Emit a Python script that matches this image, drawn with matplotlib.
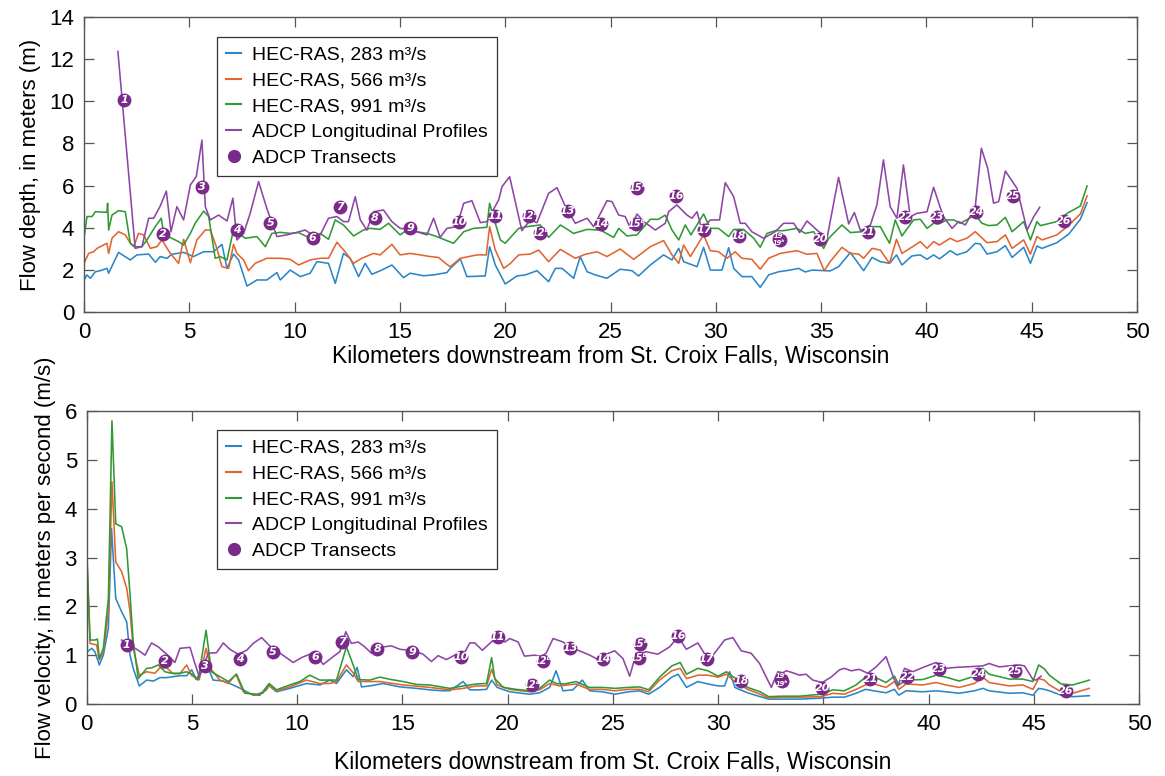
import numpy as np
import matplotlib
matplotlib.use("Agg")
import matplotlib.pyplot as plt
from matplotlib.lines import Line2D

plt.rcParams['font.family'] = ['Liberation Sans', 'DejaVu Sans']

# ---------------- DATA: flow depth (m), (km, value) ----------------
depth_283 = [(0,1.52),(0.14,1.76),(0.3,1.6),(0.54,1.91),(0.77,1.96),(1.09,2.07),(1.17,1.84),(1.64,2.83),(2.2,2.47),(2.51,2.71),
 (3.07,2.75),(3.39,2.36),(3.62,2.63),(3.94,2.55),(4.17,2.74),(4.73,2.83),(5.2,2.63),(5.68,2.86),(6.15,2.86),(6.55,3.21),
 (6.79,2.07),(7.1,2.75),(7.34,2.47),(7.74,1.23),(8.21,1.52),(8.68,1.52),(9.16,1.87),(9.32,1.52),(9.79,1.99),(10.27,1.68),
 (10.74,1.84),(11.06,2.39),(11.61,2.31),(11.93,1.36),(12.32,2.78),(12.64,2.55),(13.04,1.68),(13.35,2.31),(13.67,1.79),(14.14,1.99),
 (14.62,2.23),(15.17,1.63),(15.49,1.84),(16.12,1.72),(16.6,1.76),(17.23,1.87),(17.39,2.07),(17.87,2.52),(18.18,1.68),(19.05,1.71),
 (19.26,3.1),(19.53,2.23),(20.0,1.33),(20.56,1.71),(20.96,1.76),(21.51,1.96),(22.06,1.44),(22.38,2.07),(22.7,2.07),(23.25,1.6),
 (23.56,2.63),(23.89,1.91),(24.28,1.76),(24.83,1.6),(25.46,2.03),(26.02,1.96),(26.33,1.71),(26.89,2.23),(27.52,2.71),(27.92,2.47),
 (28.24,3.02),(28.47,2.39),(29.11,2.15),(29.42,3.07),(29.74,1.99),(30.29,1.99),(30.61,3.05),(30.85,2.07),(31.24,1.68),(31.71,1.68),
 (32.11,1.17),(32.51,1.76),(32.98,1.91),(33.53,1.99),(33.93,2.07),(34.25,1.9),(34.57,1.99),(35.43,1.95),(35.83,2.15),(36.39,2.82),
 (37.02,1.96),(37.42,2.59),(37.81,2.39),(38.25,2.31),(38.58,2.71),(38.84,2.23),(39.31,2.66),(39.71,2.71),(40.03,2.5),(40.34,2.71),
 (40.62,2.52),(41.13,2.91),(41.45,2.71),(41.92,2.86),(42.32,3.26),(42.56,3.23),(42.88,2.75),(43.35,2.86),(43.75,3.15),(44.07,2.59),
 (44.62,3.07),(44.94,2.31),(45.25,3.13),(45.49,3.02),(46.2,3.29),(46.76,3.7),(47.31,4.4),(47.63,5.19)]

depth_566 = [(0,2.31),(0.22,2.78),(0.46,2.86),(0.62,3.02),(0.93,3.18),(1.09,3.26),(1.17,2.78),(1.33,3.5),(1.64,3.81),(1.96,3.66),
 (2.2,3.26),(2.36,3.1),(2.59,3.73),(2.83,3.66),(3.15,3.02),(3.46,3.1),(3.7,3.42),(4.1,2.78),(4.49,2.31),(4.73,3.45),
 (5.05,2.34),(5.36,3.42),(5.76,3.89),(6.0,3.89),(6.31,3.02),(6.55,2.15),(6.87,2.07),(7.1,3.21),(7.26,2.78),(7.58,2.47),
 (7.81,1.96),(8.13,2.31),(8.68,2.55),(9.32,2.55),(9.79,2.5),(10.19,2.23),(10.74,2.47),(11.22,2.55),(11.61,2.55),(12.01,3.31),
 (12.4,2.86),(12.8,2.31),(13.19,2.55),(13.75,2.78),(14.06,2.71),(14.62,3.21),(15.01,2.71),(15.49,2.78),(15.97,2.71),(16.44,2.63),
 (16.83,2.59),(17.23,2.26),(17.39,2.15),(17.87,2.55),(18.66,2.71),(19.1,2.71),(19.26,4.05),(19.53,2.94),(19.93,2.07),(20.25,2.31),
 (20.64,2.71),(21.19,2.75),(21.59,2.94),(22.06,2.39),(22.62,2.97),(23.33,2.55),(23.81,2.74),(24.36,2.86),(24.83,2.63),(25.46,2.99),
 (26.1,2.5),(26.89,3.1),(27.52,3.39),(27.92,2.71),(28.24,2.31),(28.47,3.18),(28.79,2.63),(29.42,3.66),(29.74,2.91),(30.13,2.86),
 (30.53,2.55),(30.92,2.86),(31.24,2.55),(31.71,2.5),(32.11,2.03),(32.51,2.55),(33.06,2.78),(33.85,2.91),(34.33,2.74),(34.8,2.78),
 (35.15,1.96),(35.43,2.39),(35.99,3.07),(36.39,2.78),(36.78,2.75),(37.02,2.55),(37.42,3.02),(37.81,2.94),(38.25,2.31),(38.58,3.45),
 (38.84,2.78),(39.39,3.13),(39.71,3.34),(40.03,3.02),(40.34,3.34),(40.62,3.18),(41.13,3.5),(41.45,3.34),(41.92,3.5),(42.32,3.81),
 (42.88,3.29),(43.35,3.34),(43.75,3.66),(44.07,3.02),(44.62,3.42),(44.94,2.75),(45.25,3.58),(45.49,3.42),(46.2,3.66),(46.68,4.05),
 (47.31,4.65),(47.63,5.51)]

depth_991 = [(0,3.5),(0.14,4.53),(0.38,4.53),(0.54,4.76),(1.09,4.73),(1.12,5.16),(1.17,3.89),(1.33,4.6),(1.64,4.81),(1.96,4.76),
 (2.2,3.26),(2.43,3.1),(2.75,3.1),(2.99,3.42),(3.38,4.05),(3.67,4.45),(3.78,3.73),(4.1,3.53),(4.49,3.34),(4.73,3.18),
 (5.05,3.73),(5.28,4.21),(5.68,4.79),(5.92,4.53),(6.23,2.55),(6.47,2.63),(6.79,2.47),(7.1,3.92),(7.34,3.73),(7.66,3.5),
 (8.21,3.58),(8.61,3.1),(8.92,3.73),(9.32,3.78),(9.79,3.73),(10.19,3.77),(10.74,3.5),(11.22,3.73),(11.61,3.45),(11.93,4.37),
 (12.32,4.13),(12.8,3.61),(13.27,3.89),(13.59,3.97),(14.06,3.92),(14.46,4.21),(15.01,3.66),(15.33,3.89),(15.8,3.81),(16.28,3.73),
 (16.67,3.61),(17.07,3.45),(17.55,3.26),(18.03,3.81),(18.5,3.97),(19.13,4.02),(19.26,5.16),(19.53,4.21),(19.77,3.42),(20.0,3.26),
 (20.64,3.97),(21.03,4.05),(21.67,4.13),(22.06,3.54),(22.62,4.13),(23.25,3.73),(23.89,3.92),(24.52,3.89),(25.15,3.54),(25.39,3.97),
 (25.78,3.61),(26.26,3.66),(26.89,4.4),(27.28,4.4),(27.6,4.6),(27.92,3.89),(28.24,3.42),(28.55,4.13),(28.82,3.66),(29.42,4.65),
 (29.74,3.97),(30.13,3.97),(30.61,3.58),(30.85,3.92),(31.32,3.92),(31.8,3.5),(32.11,3.07),(32.43,3.73),(32.82,3.86),(33.22,3.86),
 (33.85,3.97),(34.25,3.73),(34.65,3.81),(35.12,3.02),(35.36,3.5),(35.99,4.13),(36.39,3.77),(36.94,3.81),(37.34,4.05),(37.81,4.05),
 (38.25,3.26),(38.52,4.37),(38.84,3.61),(39.39,4.37),(39.71,4.4),(40.03,3.97),(40.34,4.21),(40.58,4.18),(40.98,4.37),(41.3,4.37),
 (41.61,4.21),(42.32,4.6),(42.64,4.21),(42.95,4.1),(43.35,4.13),(43.75,4.49),(44.07,3.81),(44.62,4.29),(44.94,3.42),(45.25,4.29),
 (45.41,4.1),(46.2,4.29),(46.68,4.68),(47.31,5.03),(47.63,5.98)]

depth_adcp = [(1.61,12.36),(2.43,3.02),(2.75,3.1),(3.07,4.45),(3.31,4.45),(3.62,5.03),(3.91,5.74),(4.13,3.81),(4.41,5.0),(4.73,4.37),
 (5.05,6.03),(5.33,6.42),(5.6,8.16),(5.76,5.0),(6.0,4.37),(6.39,4.6),(6.79,4.32),(7.07,5.4),(7.26,3.42),(7.58,3.73),
 (7.89,4.68),(8.29,6.19),(8.68,4.92),(9.16,3.58),(9.63,3.66),(10.11,3.78),(10.5,3.89),(10.74,3.73),(11.22,3.66),(11.61,4.45),
 (12.01,4.53),(12.32,4.29),(12.56,4.29),(12.88,5.47),(13.12,4.37),(13.43,3.89),(13.75,4.76),(14.22,4.84),(14.62,4.29),(15.01,3.97),
 (15.49,3.92),(15.8,3.81),(16.28,3.66),(16.6,4.45),(16.91,3.54),(17.23,3.97),(17.7,4.05),(18.03,5.16),(18.42,5.28),(18.82,4.24),
 (19.13,4.29),(19.69,5.32),(19.85,5.95),(20.21,6.42),(20.79,3.86),(21.19,4.37),(21.51,4.24),(22.06,5.63),(22.46,5.9),(22.86,5.0),
 (23.33,4.21),(23.89,4.45),(24.2,4.05),(24.83,5.28),(25.07,5.24),(25.39,4.6),(25.7,4.53),(25.94,3.97),(26.26,4.65),(26.58,4.29),
 (27.13,3.89),(27.6,4.21),(27.76,4.76),(28.15,5.08),(28.63,4.6),(28.87,4.45),(29.11,4.76),(29.34,3.89),(29.74,4.37),(30.18,4.37),
 (30.45,6.14),(30.85,5.47),(31.16,4.21),(31.4,4.21),(31.71,3.81),(32.27,3.5),(32.82,3.81),(33.22,4.21),(33.7,4.21),(33.98,3.77),
 (34.33,4.32),(34.8,3.89),(35.28,3.5),(35.83,6.39),(36.31,4.18),(36.58,4.72),(36.87,3.86),(37.34,4.13),(37.65,5.08),(37.96,7.22),
 (38.28,5.0),(38.6,4.45),(38.91,6.98),(39.23,4.53),(39.55,4.68),(40.03,4.76),(40.34,5.92),(40.8,4.53),(41.22,3.97),(41.53,4.29),
 (41.85,4.13),(42.32,5.0),(42.61,7.77),(42.91,6.82),(43.19,5.16),(43.43,5.24),(43.75,6.69),(44.3,5.87),(44.78,3.89),(45.1,4.53),
 (45.38,4.97)]

# ---------------- DATA: flow velocity (m/s), (km, value) ----------------
vel_283 = [(0,3.1),(0.03,1.07),(0.24,1.14),(0.39,1.07),(0.6,0.8),(0.79,1.0),(1.03,1.55),(1.18,3.59),(1.38,2.16),(1.66,1.89),
 (1.9,1.68),(2.06,1.0),(2.21,0.73),(2.5,0.37),(2.85,0.49),(3.17,0.47),(3.48,0.54),(3.8,0.54),(4.43,0.58),(4.75,0.58),
 (4.99,0.7),(5.2,0.5),(5.5,0.72),(5.78,0.73),(6.01,0.49),(6.49,0.47),(6.96,0.39),(7.44,0.29),(7.91,0.18),(8.23,0.18),
 (8.62,0.39),(9.02,0.25),(9.65,0.32),(10.44,0.42),(11.08,0.39),(11.55,0.49),(11.87,0.42),(12.34,0.7),(12.66,0.56),(12.85,0.75),
 (13.06,0.35),(13.45,0.37),(14.09,0.42),(14.88,0.35),(15.67,0.32),(16.3,0.29),(16.93,0.27),(17.25,0.27),(17.89,0.46),(18.2,0.29),
 (18.67,0.29),(19.0,0.3),(19.24,0.49),(19.5,0.34),(20.1,0.25),(21.05,0.2),(21.52,0.23),(22.0,0.34),(22.3,0.68),(22.63,0.27),
 (23.1,0.29),(23.55,0.49),(23.9,0.27),(24.5,0.25),(25.1,0.2),(25.74,0.25),(26.27,0.27),(26.7,0.2),(27.22,0.34),(27.8,0.55),
 (28.1,0.61),(28.5,0.34),(29.04,0.46),(29.52,0.41),(30.0,0.37),(30.31,0.37),(30.55,0.66),(30.8,0.34),(31.0,0.3),(31.4,0.23),
 (32.0,0.15),(32.4,0.1),(33.0,0.1),(33.87,0.1),(34.9,0.12),(35.45,0.14),(36.0,0.14),(36.56,0.22),(37.0,0.3),(37.4,0.27),
 (37.98,0.23),(38.38,0.3),(38.59,0.18),(38.93,0.27),(39.72,0.25),(40.36,0.27),(40.82,0.25),(41.46,0.22),(42.18,0.27),(42.58,0.32),
 (42.88,0.27),(43.84,0.22),(44.47,0.23),(44.96,0.18),(45.23,0.32),(45.5,0.3),(45.74,0.27),(46.3,0.18),(46.85,0.15),(47.64,0.17)]

vel_566 = [(0,3.2),(0.16,1.24),(0.47,1.21),(0.6,0.9),(0.79,1.07),(1.03,1.88),(1.2,4.55),(1.38,2.91),(1.66,2.71),(1.9,2.37),
 (2.06,1.89),(2.21,1.14),(2.5,0.59),(2.85,0.66),(3.24,0.63),(3.48,0.74),(3.8,0.74),(4.11,0.62),(4.43,0.62),(4.75,0.8),
 (4.99,0.58),(5.35,0.5),(5.67,1.14),(5.93,0.7),(6.33,0.49),(6.73,0.42),(7.09,0.61),(7.44,0.25),(8.07,0.18),(8.55,0.29),
 (8.67,0.39),(9.02,0.27),(9.65,0.35),(10.44,0.49),(11.08,0.42),(11.55,0.42),(11.87,0.46),(12.34,0.8),(12.66,0.64),(12.9,0.46),
 (13.93,0.46),(15.03,0.39),(16.3,0.34),(17.25,0.29),(17.89,0.32),(18.52,0.37),(19.0,0.37),(19.24,0.71),(19.5,0.39),(20.1,0.3),
 (21.05,0.25),(21.52,0.29),(22.0,0.42),(22.47,0.37),(23.25,0.41),(23.87,0.3),(24.5,0.3),(25.1,0.27),(25.74,0.3),(26.27,0.3),
 (26.7,0.25),(27.22,0.49),(27.8,0.68),(28.2,0.73),(28.5,0.52),(29.04,0.59),(29.52,0.59),(30.0,0.55),(30.4,0.61),(30.7,0.49),
 (31.0,0.41),(31.4,0.3),(32.0,0.2),(32.4,0.12),(33.0,0.14),(33.87,0.14),(34.9,0.15),(35.45,0.22),(36.0,0.2),(36.56,0.3),
 (37.0,0.39),(37.4,0.41),(37.98,0.34),(38.38,0.46),(38.59,0.3),(38.93,0.41),(39.72,0.39),(40.36,0.44),(40.82,0.39),(41.46,0.34),
 (42.18,0.42),(42.58,0.55),(42.88,0.44),(43.84,0.37),(44.47,0.39),(44.96,0.3),(45.23,0.52),(45.5,0.49),(45.74,0.39),(46.3,0.25),
 (46.85,0.22),(47.64,0.32)]

vel_991 = [(0,3.1),(0.16,1.31),(0.39,1.31),(0.51,1.33),(0.6,0.93),(0.79,1.14),(1.03,2.16),(1.2,5.8),(1.38,3.69),(1.66,3.63),
 (1.9,3.18),(2.06,2.23),(2.21,1.27),(2.45,0.52),(2.85,0.73),(3.09,0.74),(3.4,0.8),(3.72,0.66),(4.03,0.63),(4.43,0.63),
 (4.75,0.66),(5.06,0.6),(5.3,0.49),(5.67,1.51),(5.93,0.66),(6.33,0.56),(6.73,0.46),(7.12,0.61),(7.52,0.22),(8.07,0.2),
 (8.39,0.23),(8.67,0.42),(9.02,0.29),(9.65,0.39),(10.13,0.46),(10.6,0.59),(11.08,0.49),(11.47,0.49),(11.87,0.49),(12.34,1.17),
 (12.66,0.8),(12.9,0.5),(13.45,0.49),(13.93,0.55),(14.48,0.5),(15.03,0.46),(15.67,0.4),(16.3,0.39),(17.25,0.32),(17.89,0.37),
 (18.52,0.41),(19.0,0.42),(19.24,0.95),(19.39,0.52),(19.79,0.34),(20.4,0.3),(21.05,0.27),(21.52,0.32),(22.0,0.49),(22.3,0.42),
 (22.7,0.41),(23.25,0.46),(23.87,0.34),(24.5,0.34),(25.1,0.32),(25.74,0.34),(26.27,0.35),(26.7,0.29),(27.22,0.55),(27.8,0.78),
 (28.2,0.85),(28.5,0.61),(29.04,0.73),(29.52,0.68),(30.0,0.57),(30.4,0.66),(30.7,0.56),(31.0,0.49),(31.4,0.34),(32.0,0.25),
 (32.4,0.15),(33.0,0.16),(33.87,0.16),(34.9,0.2),(35.45,0.29),(36.0,0.27),(36.56,0.39),(37.0,0.55),(37.4,0.56),(37.98,0.44),
 (38.38,0.57),(38.59,0.39),(38.93,0.49),(39.72,0.5),(40.36,0.59),(40.82,0.55),(41.46,0.47),(42.18,0.57),(42.58,0.73),(42.88,0.61),
 (43.84,0.51),(44.47,0.51),(44.96,0.46),(45.23,0.8),(45.5,0.72),(45.74,0.59),(46.3,0.41),(46.85,0.39),(47.64,0.49)]

vel_adcp = [(1.66,1.31),(2.45,1.1),(2.77,1.0),(3.08,1.25),(3.4,1.17),(3.8,1.02),(4.19,0.85),(4.43,1.14),(4.91,1.16),(5.14,0.83),
 (5.35,0.56),(5.78,1.04),(6.17,1.05),(6.49,1.25),(6.8,1.12),(7.2,1.02),(7.6,1.1),(7.91,1.24),(8.31,1.36),(8.7,1.19),
 (9.02,1.09),(9.42,0.97),(9.81,0.85),(10.21,0.95),(10.6,1.02),(10.92,1.0),(11.24,0.81),(11.71,0.97),(12.03,1.07),(12.31,1.48),
 (12.58,1.24),(12.9,1.27),(13.21,1.17),(13.53,1.04),(13.93,1.16),(14.48,1.19),(14.88,1.12),(15.35,1.1),(15.67,1.07),(15.98,1.02),
 (16.38,0.87),(16.7,0.99),(17.09,0.91),(17.57,1.02),(17.89,1.0),(18.2,1.25),(18.44,1.25),(18.8,1.1),(19.15,1.24),(19.52,1.38),
 (19.87,1.27),(20.1,1.34),(20.5,1.27),(20.8,0.98),(21.27,1.0),(21.6,0.97),(21.83,1.04),(22.16,1.34),(22.63,1.27),(22.95,1.17),
 (23.35,1.1),(23.9,1.0),(24.3,0.91),(24.8,1.04),(25.09,1.09),(25.48,0.93),(25.8,0.57),(26.1,1.02),(26.59,1.07),(27.14,1.02),
 (27.7,1.17),(28.1,1.38),(28.49,1.12),(29.04,1.25),(29.44,0.97),(29.76,1.0),(30.31,1.31),(30.7,1.36),(31.1,1.09),(31.57,1.04),
 (31.97,0.83),(32.53,0.34),(32.84,0.66),(33.08,0.64),(33.24,0.68),(33.55,0.64),(33.87,0.59),(34.18,0.61),(34.5,0.49),(34.95,0.44),
 (35.37,0.55),(35.77,0.7),(36.0,0.73),(36.33,0.68),(36.71,0.71),(37.11,0.63),(37.51,0.76),(37.98,0.97),(38.38,0.49),(38.54,0.37),
 (38.86,0.73),(39.25,0.66),(39.8,0.76),(40.36,0.85),(40.82,0.73),(41.3,0.75),(41.77,0.76),(42.58,0.78),(42.88,0.83),(43.35,0.76),
 (43.84,0.78),(44.32,0.8),(44.56,0.78),(44.96,0.5),(45.11,0.49),(45.35,0.57)]

# ---------------- DATA: ADCP transects ----------------
transect_labels = ['1','2','3','4','5','6','7','8','9','10','11','12\u1d43','12\u1d47','13','14','15\u1d43','15\u1d47',
                   '16','17','18','19\u1d43','19\u1d47','20','21','22','23','24','25','26']
transect_km = [1.9,3.73,5.6,7.28,8.85,10.85,12.15,13.8,15.48,17.8,19.53,21.14,21.66,22.97,24.55,26.27,26.22,
               28.11,29.45,31.08,33.0,33.03,34.96,37.23,39.0,40.5,42.37,44.1,46.51]
transect_depth = [10.06,3.69,5.92,3.89,4.21,3.53,4.97,4.48,3.97,4.29,4.57,4.57,3.76,4.81,4.16,5.87,4.16,
                  5.52,3.89,3.62,3.47,3.41,3.46,3.81,4.52,4.52,4.76,5.52,4.33]
transect_vel = [1.21,0.89,0.78,0.92,1.07,0.97,1.27,1.12,1.07,0.97,1.38,0.39,0.89,1.15,0.92,1.23,0.95,
                1.4,0.93,0.47,0.51,0.48,0.33,0.51,0.56,0.71,0.61,0.67,0.27]

series_labels = ['HEC-RAS, 283 m\u00b3/s', 'HEC-RAS, 566 m\u00b3/s', 'HEC-RAS, 991 m\u00b3/s',
                 'ADCP Longitudinal Profiles', 'ADCP Transects']
xlabel = 'Kilometers downstream from St. Croix Falls, Wisconsin'

C_BLUE, C_ORANGE, C_GREEN = '#2b86c8', '#e2652f', '#2f9a34'
C_PURPLE_LINE, C_PURPLE_MK = '#8d45a6', '#7a2a88'
SPINE = '#555555'

fig = plt.figure(figsize=(11.65, 7.76), dpi=100)
W, H = 1165.0, 776.0
ax1 = fig.add_axes([84 / W, 1 - 312 / H, 1053 / W, 295 / H])
ax2 = fig.add_axes([86.7 / W, 1 - 704 / H, 1052.3 / W, 293 / H])


def draw(ax, s283, s566, s991, sadcp, tvals, ylim, yticks, ylabel, leg_anchor, xlabelpad):
    for data, col in ((s283, C_BLUE), (s566, C_ORANGE), (s991, C_GREEN)):
        arr = np.array(data)
        ax.plot(arr[:, 0], arr[:, 1], color=col, lw=1.15, zorder=2)
    arr = np.array(sadcp)
    ax.plot(arr[:, 0], arr[:, 1], color=C_PURPLE_LINE, lw=1.15, zorder=3)
    ax.plot(transect_km, tvals, ls='none', marker='o', ms=10, color=C_PURPLE_MK,
            markeredgewidth=0, zorder=4)
    for lab, xk, yv in zip(transect_labels, transect_km, tvals):
        if lab.startswith('19'):
            # two transects share one spot: stack the two small labels in the circle
            dy = 2.4 if lab.endswith('\u1d43') else -2.4
            ax.annotate(lab, (33.02, yv), xytext=(0, dy), textcoords='offset points',
                        color='white', fontsize=4.8, fontweight='bold', fontstyle='italic',
                        ha='center', va='center', family=['DejaVu Sans'], zorder=5)
            continue
        fs = 7.0 if len(lab) > 2 else 8.0
        ax.text(xk, yv, lab, color='white', fontsize=fs, fontweight='bold', fontstyle='italic',
                ha='center', va='center', family=['DejaVu Sans'], zorder=5)
    ax.set_xlim(0, 50)
    ax.set_ylim(*ylim)
    ax.set_xticks(np.arange(0, 51, 5))
    ax.set_yticks(yticks)
    ax.tick_params(direction='in', top=True, right=True, length=7, width=0.9,
                   color=SPINE, labelsize=16, pad=7)
    for sp in ax.spines.values():
        sp.set_color(SPINE)
        sp.set_linewidth(1.0)
    ax.set_xlabel(xlabel, fontsize=16.5, labelpad=xlabelpad)
    ax.set_ylabel(ylabel, fontsize=16, labelpad=6)
    handles = [Line2D([], [], color=C_BLUE, lw=1.5), Line2D([], [], color=C_ORANGE, lw=1.5),
               Line2D([], [], color=C_GREEN, lw=1.5), Line2D([], [], color=C_PURPLE_LINE, lw=1.5),
               Line2D([], [], ls='none', marker='o', ms=8.5, color=C_PURPLE_MK)]
    leg = ax.legend(handles, series_labels, loc='upper left', bbox_to_anchor=leg_anchor,
                    borderaxespad=0, fontsize=14, frameon=True, fancybox=False,
                    edgecolor='#333333', framealpha=1, handlelength=0.8, handletextpad=0.55,
                    labelspacing=0.43, borderpad=0.45)
    leg.get_frame().set_linewidth(0.9)
    leg.set_zorder(10)


draw(ax1, depth_283, depth_566, depth_991, depth_adcp, transect_depth, (0, 14), np.arange(0, 15, 2),
     'Flow depth, in meters (m)', ((217 - 84) / 1053, 1 - (37 - 17) / 295), 1.5)
draw(ax2, vel_283, vel_566, vel_991, vel_adcp, transect_vel, (0, 6), np.arange(0, 7, 1),
     'Flow velocity, in meters per second (m/s)', ((217 - 86.7) / 1052.3, 1 - (430 - 411) / 293), 12)

fig.savefig('out.png', dpi=100)
